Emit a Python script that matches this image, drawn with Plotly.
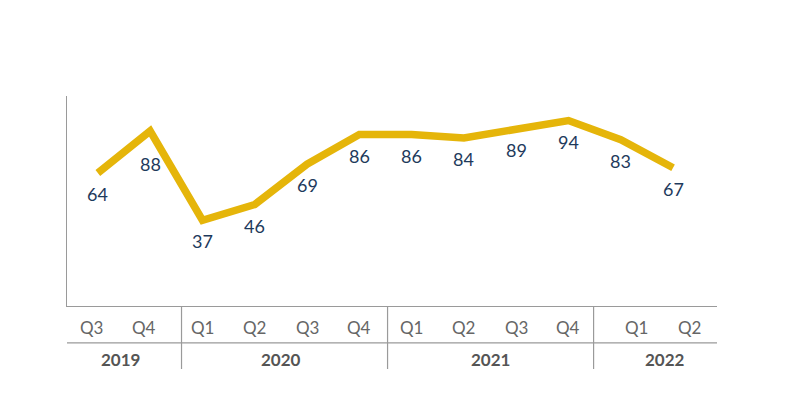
import plotly.graph_objects as go

# data
quarters = ["Q3", "Q4", "Q1", "Q2", "Q3", "Q4", "Q1", "Q2", "Q3", "Q4", "Q1", "Q2"]
years = ["2019", "2019", "2020", "2020", "2020", "2020",
         "2021", "2021", "2021", "2021", "2022", "2022"]
values = [64, 88, 37, 46, 69, 86, 86, 84, 89, 94, 83, 67]

year_names = ["2019", "2020", "2021", "2022"]

LINE = "#E5B50A"
LABEL = "#1E3A5C"
GREY_TXT = "#666666"
AXIS = "#9A9A9A"
FONT = "Lato"

xs = list(range(len(values)))

fig = go.Figure()
fig.add_trace(go.Scatter(
    x=xs, y=values, mode="lines",
    line=dict(color=LINE, width=7.5),
    hoverinfo="skip", showlegend=False,
))

ann = []
# value labels under each point (the peak one sits a bit lower)
for i, v in enumerate(values):
    shift = -33 if i == 1 else -21
    ann.append(dict(x=i, y=v, xref="x", yref="y", text=str(v), showarrow=False,
                    yshift=shift, font=dict(family=FONT, size=18, color=LABEL)))

# quarter labels + year labels below the axis
qshift = {"2019": -6, "2020": 0, "2021": 0, "2022": 16}
for i, (q, yr) in enumerate(zip(quarters, years)):
    ann.append(dict(x=i, y=-0.1, xref="x", yref="paper", text=q, showarrow=False,
                    xshift=qshift[yr], yanchor="middle",
                    font=dict(family=FONT, size=17, color=GREY_TXT)))

year_shift = {"2019": -4, "2020": 0, "2021": 0, "2022": 18}
for yr in year_names:
    idx = [i for i, y in enumerate(years) if y == yr]
    mid = (idx[0] + idx[-1]) / 2
    ann.append(dict(x=mid, y=-0.255, xref="x", yref="paper", text="<b>" + yr + "</b>",
                    showarrow=False, xshift=year_shift[yr], yanchor="middle",
                    font=dict(family=FONT, size=17, color="#555555")))

shapes = [
    # separator between quarter row and year row
    dict(type="line", xref="paper", yref="paper", x0=0, x1=1, y0=-0.176, y1=-0.176,
         line=dict(color=AXIS, width=1.2)),
]
for xd in [1.6, 5.54, 9.48]:
    shapes.append(dict(type="line", xref="x", yref="paper", x0=xd, x1=xd,
                       y0=0, y1=-0.30, line=dict(color=AXIS, width=1.2)))

# page body adds an 8px margin, so margins are trimmed by 8 on left/top
fig.update_layout(
    width=800, height=411,
    margin=dict(l=59, r=91, t=88, b=113),
    paper_bgcolor="white", plot_bgcolor="white",
    xaxis=dict(range=[-0.59, 11.84], showgrid=False, zeroline=False,
               showticklabels=False, ticks="", showline=True,
               linecolor=AXIS, linewidth=1.2, fixedrange=True),
    yaxis=dict(range=[-12, 108], showgrid=False, zeroline=False,
               showticklabels=False, ticks="", showline=True,
               linecolor=AXIS, linewidth=1.2, fixedrange=True),
    annotations=ann,
    shapes=shapes,
)

fig.write_html("out.html")
